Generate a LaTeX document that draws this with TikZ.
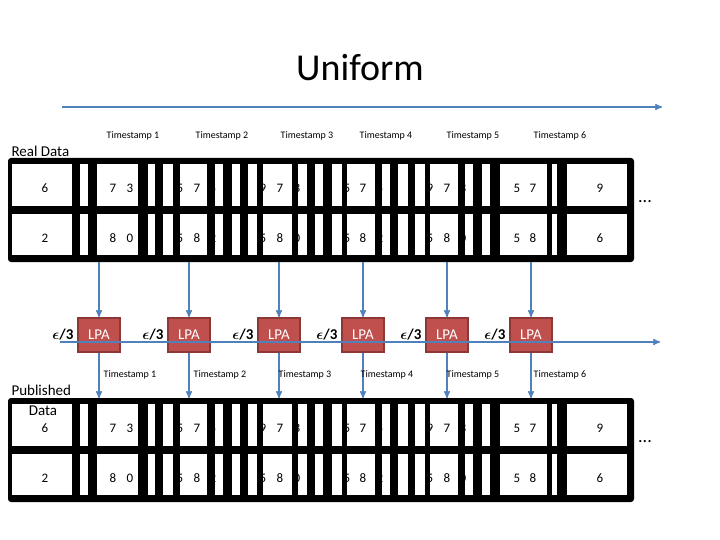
\documentclass[tikz,border=0pt]{standalone}
\usepackage{amsmath}
\usepackage{fontspec}
\setmainfont{Carlito}
\usetikzlibrary{arrows}
\definecolor{flowblue}{HTML}{4F81BD}
\definecolor{lpared}{HTML}{C0504D}
\definecolor{lpadark}{HTML}{8C3836}
\tikzstyle{lpa box} = [%
	rectangle,
	draw=lpadark,
	line width=2pt,
	fill=lpared,
	minimum width=42pt,
	minimum height=34pt,
	text=white,
	font=\fontsize{15}{15}\selectfont
]
\tikzstyle{flow} = [%
	draw=flowblue,
	line width=1.4pt,
	-stealth'
]
\tikzstyle{stamp} = [font=\fontsize{10}{10}\selectfont]
\tikzstyle{digit} = [font=\fontsize{13}{13}\selectfont]
\tikzstyle{eps} = [font=\bfseries\fontsize{15}{15}\selectfont]
\begin{document}
\begin{tikzpicture}[x=1pt,y=-1pt]
\useasboundingbox (0,0) rectangle (720,540);

% title and time axis
\node[font=\fontsize{38}{38}\selectfont] (title) at (360,68) {Uniform};
\coordinate (time start) at (62,107);
\coordinate (time end) at (662,107);
\draw[flow] (time start) -- (time end);

% the two data tables
\foreach \top/\tab in {158/real, 398/pub} {
	\fill[black, rounded corners=3pt] (8,\top) rectangle (634,\top+104);
	\foreach \l/\r in {12/72, 80/88, 97/138, 148/155, 163/173, 180/207, 215/223,
	                   232/240, 248/257, 263/292, 298/307, 315/323, 332/342, 347/375,
	                   382/390, 398/408, 415/425, 430/458, 465/473, 482/490, 500/547,
	                   552/557, 567/627} {
		\fill[white] (\l,\top+6) rectangle (\r,\top+48);
		\fill[white] (\l,\top+56) rectangle (\r,\top+97);
	}
	\foreach \x/\a/\b in {45/6/2, 113/7/8, 130/3/0, 180/5/5, 197/7/8, 213/5/2,
	                      263/9/5, 280/7/8, 297/3/0, 347/5/5, 363/7/8, 380/5/2,
	                      430/9/5, 447/7/8, 463/3/0, 517/5/5, 533/7/8, 600/9/6} {
		\node[digit] at (\x,\top+30) {\a};
		\node[digit] at (\x,\top+80) {\b};
	}
	\node[font=\fontsize{18}{18}\selectfont] (\tab dots) at (645,\top+44) {...};
}

% labels of the tables
\node[font=\fontsize{15}{15}\selectfont, anchor=west] (real) at (8,151) {Real Data};
\node[font=\fontsize{15}{15}\selectfont, anchor=west] (pub) at (8,390) {Published};
\node[font=\fontsize{15}{15}\selectfont] (pub data) at (43,411) {Data};

% the LPA chain
\coordinate (chain start) at (60,342);
\coordinate (chain end) at (660,342);
\draw[flow] (chain start) -- (chain end);
\foreach \i/\x/\tx/\bx in {1/99/133/130, 2/189/222/220, 3/279/307/305,
                           4/363/386/387, 5/447/473/473, 6/531/560/560} {
	\node[lpa box] (lpa\i) at (\x,335) {LPA};
	\node[eps, anchor=east] (eps\i) at (lpa\i.west) {$\boldsymbol{\epsilon}$/3};
	\coordinate (in\i) at (\x,262);
	\coordinate (out\i) at (\x,398);
	\draw[flow] (in\i) -- (lpa\i);
	\draw[flow] (lpa\i) -- (out\i);
	\draw[flowblue, line width=1.4pt] (lpa\i.west|-chain start) -- (lpa\i.east|-chain start);
	\node[stamp] (top stamp\i) at (\tx,136) {Timestamp \i};
	\node[stamp] (bottom stamp\i) at (\bx,375) {Timestamp \i};
}

\end{tikzpicture}
\end{document}
